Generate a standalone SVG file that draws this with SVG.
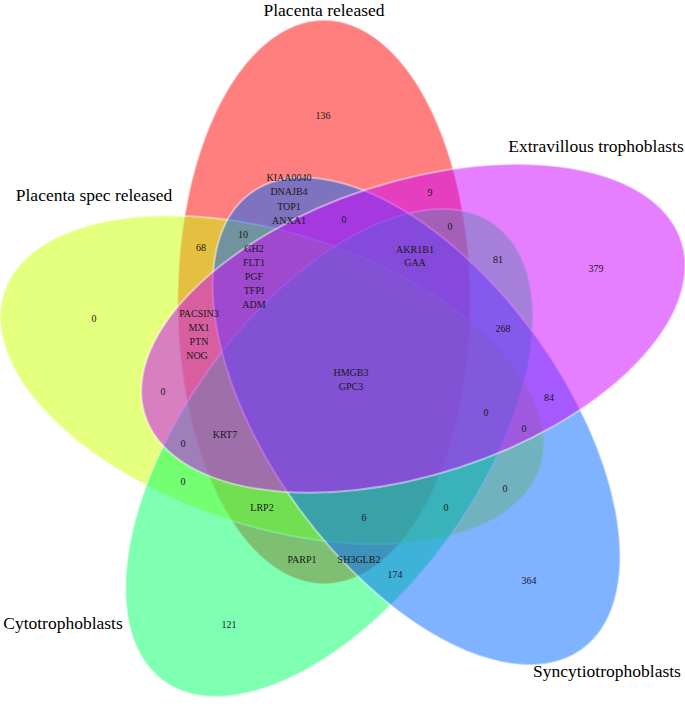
<svg xmlns="http://www.w3.org/2000/svg" width="685" height="706" viewBox="0 0 685 706">
<style>
.set{fill-opacity:0.5;stroke:#ffffff;stroke-opacity:0.45;stroke-width:2}
.cat{font-family:"Liberation Serif","Times New Roman",serif;font-size:17.5px;fill:#000;text-anchor:middle}
.num{font-family:"Liberation Serif","Times New Roman",serif;font-size:10px;fill:#1a1a1a;text-anchor:middle}
</style>
<rect width="685" height="706" fill="#ffffff"/>
<g id="set-placenta-released">
<ellipse class="set" cx="324" cy="302" rx="146.5" ry="282" fill="#FF0000"/>
</g>
<g id="set-placenta-spec-released">
<ellipse class="set" cx="272" cy="379.8" rx="146.5" ry="282" fill="#CCFF00" transform="rotate(288 272 379.8)"/>
</g>
<g id="set-cytotrophoblasts">
<ellipse class="set" cx="329.2" cy="452.9" rx="146.5" ry="282" fill="#00FF66" transform="rotate(216 329.2 452.9)"/>
</g>
<g id="set-syncytiotrophoblasts">
<ellipse class="set" cx="416.5" cy="421.2" rx="146.5" ry="282" fill="#0066FF" transform="rotate(144 416.5 421.2)"/>
</g>
<g id="set-extravillous-trophoblasts">
<ellipse class="set" cx="413.3" cy="328.4" rx="146.5" ry="282" fill="#CC00FF" transform="rotate(72 413.3 328.4)"/>
</g>
<g id="category-labels">
<text class="cat" x="324" y="16">Placenta released</text>
<text class="cat" x="596" y="152">Extravillous trophoblasts</text>
<text class="cat" x="94" y="201">Placenta spec released</text>
<text class="cat" x="63" y="629">Cytotrophoblasts</text>
<text class="cat" x="607" y="677">Syncytiotrophoblasts</text>
</g>
<g id="region-labels">
<text class="num" x="323" y="118.5">136</text>
<text class="num" x="289" y="180.5">KIAA0040</text>
<text class="num" x="289" y="195">DNAJB4</text>
<text class="num" x="289" y="209.5">TOP1</text>
<text class="num" x="289" y="223.5">ANXA1</text>
<text class="num" x="344" y="222.5">0</text>
<text class="num" x="430" y="195.5">9</text>
<text class="num" x="450" y="229.5">0</text>
<text class="num" x="243" y="237.5">10</text>
<text class="num" x="201" y="250.5">68</text>
<text class="num" x="254" y="251.5">GH2</text>
<text class="num" x="254" y="265.5">FLT1</text>
<text class="num" x="254" y="279.5">PGF</text>
<text class="num" x="254" y="293.5">TFPI</text>
<text class="num" x="254" y="307.5">ADM</text>
<text class="num" x="415" y="252.5">AKR1B1</text>
<text class="num" x="415" y="265.5">GAA</text>
<text class="num" x="498" y="262.5">81</text>
<text class="num" x="596" y="271.5">379</text>
<text class="num" x="503" y="331.5">268</text>
<text class="num" x="94" y="321.5">0</text>
<text class="num" x="199" y="316.5">PACSIN3</text>
<text class="num" x="199" y="330.5">MX1</text>
<text class="num" x="199" y="344.5">PTN</text>
<text class="num" x="197" y="358.5">NOG</text>
<text class="num" x="351" y="375.5">HMGB3</text>
<text class="num" x="351" y="389.5">GPC3</text>
<text class="num" x="163" y="394.5">0</text>
<text class="num" x="549" y="400.5">84</text>
<text class="num" x="486" y="415.5">0</text>
<text class="num" x="524" y="431.5">0</text>
<text class="num" x="225" y="437.5">KRT7</text>
<text class="num" x="183" y="446.5">0</text>
<text class="num" x="183" y="484.5">0</text>
<text class="num" x="505" y="492">0</text>
<text class="num" x="262" y="510.5">LRP2</text>
<text class="num" x="364" y="520.5">6</text>
<text class="num" x="446" y="510.5">0</text>
<text class="num" x="302" y="562.5">PARP1</text>
<text class="num" x="359" y="562.5">SH3GLB2</text>
<text class="num" x="395" y="577.5">174</text>
<text class="num" x="529" y="584">364</text>
<text class="num" x="229" y="627.5">121</text>
</g>
</svg>
